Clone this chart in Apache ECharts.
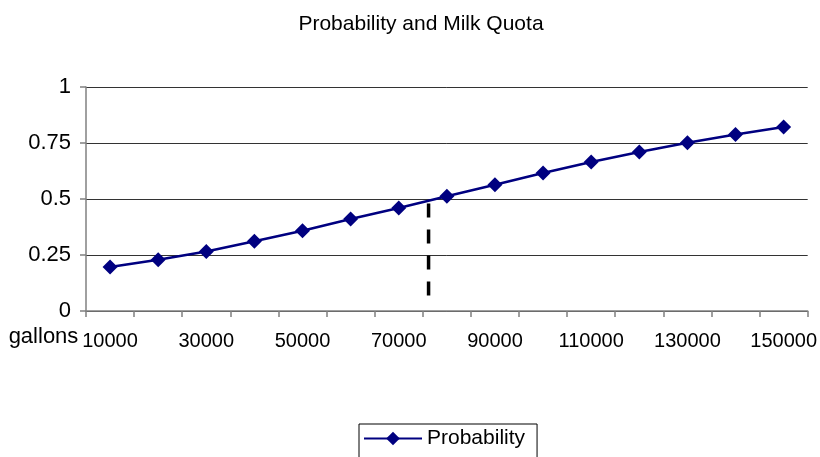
<!DOCTYPE html>
<html>
<head>
<meta charset="utf-8">
<script src="https://cdn.jsdelivr.net/npm/echarts@6/dist/echarts.min.js"></script>
<style>html,body{margin:0;padding:0;background:#fff}#c{width:820px;height:457px}</style>
</head>
<body>
<div id="c"></div>
<script>
var categories = ['10000','20000','30000','40000','50000','60000','70000','80000','90000','100000','110000','120000','130000','140000','150000'];
var probability = [0.196,0.229,0.266,0.311,0.358,0.411,0.46,0.512,0.564,0.616,0.665,0.71,0.751,0.788,0.821];
var quotaX = 76200;
var quotaLine = [[quotaX, 0.48],[quotaX, 0.054]];
var yTicks = {min:0, max:1, interval:0.25};

var font = 'Liberation Sans, Arial, sans-serif';
var chart = echarts.init(document.getElementById('c'), null, {renderer:'canvas'});
chart.setOption({
  animation:false,
  title:{text:'Probability and Milk Quota', left:416, top:9, textAlign:'center',
    textStyle:{fontFamily:font, fontSize:21, fontWeight:'normal', color:'#000'}},
  legend:{data:['Probability'], left:359, top:424, orient:'horizontal',
    borderColor:'#000', borderWidth:1, padding:[4,12,12,4], itemWidth:58, itemHeight:17,
    textStyle:{fontFamily:font, fontSize:21, color:'#000'}},
  grid:{left:86, right:12, top:87, bottom:146, containLabel:false},
  xAxis:[{type:'category', data:categories, boundaryGap:true,
    name:'gallons', nameLocation:'start', nameGap:1,
    nameTextStyle:{fontFamily:font, fontSize:22, color:'#000', verticalAlign:'top', padding:[15,0,0,0]},
    axisLine:{lineStyle:{color:'#808080', width:1.5}},
    axisTick:{show:true, interval:0, length:6, lineStyle:{color:'#808080', width:1.5}},
    axisLabel:{interval:1, margin:20, fontFamily:font, fontSize:20, color:'#000'},
    splitLine:{show:false}},
   {type:'value', min:5000, max:155000, show:false}],
  yAxis:{type:'value', min:yTicks.min, max:yTicks.max, interval:yTicks.interval,
    axisLine:{show:true, lineStyle:{color:'#808080', width:1.5}},
    axisTick:{show:true, length:6, lineStyle:{color:'#808080', width:1.5}},
    axisLabel:{margin:15, fontFamily:font, fontSize:22, color:'#000'},
    splitLine:{lineStyle:{color:'#333', width:1}}},
  series:[
    {name:'Probability', type:'line', data:probability, symbol:'diamond', symbolSize:15,
      lineStyle:{color:'#000080', width:2.5}, itemStyle:{color:'#000080'}},
    {name:'quota', type:'line', xAxisIndex:1, data:quotaLine, symbol:'none', silent:true,
      lineStyle:{color:'#000', width:3.5, type:[14,12]}}
  ]
});
</script>
</body>
</html>
